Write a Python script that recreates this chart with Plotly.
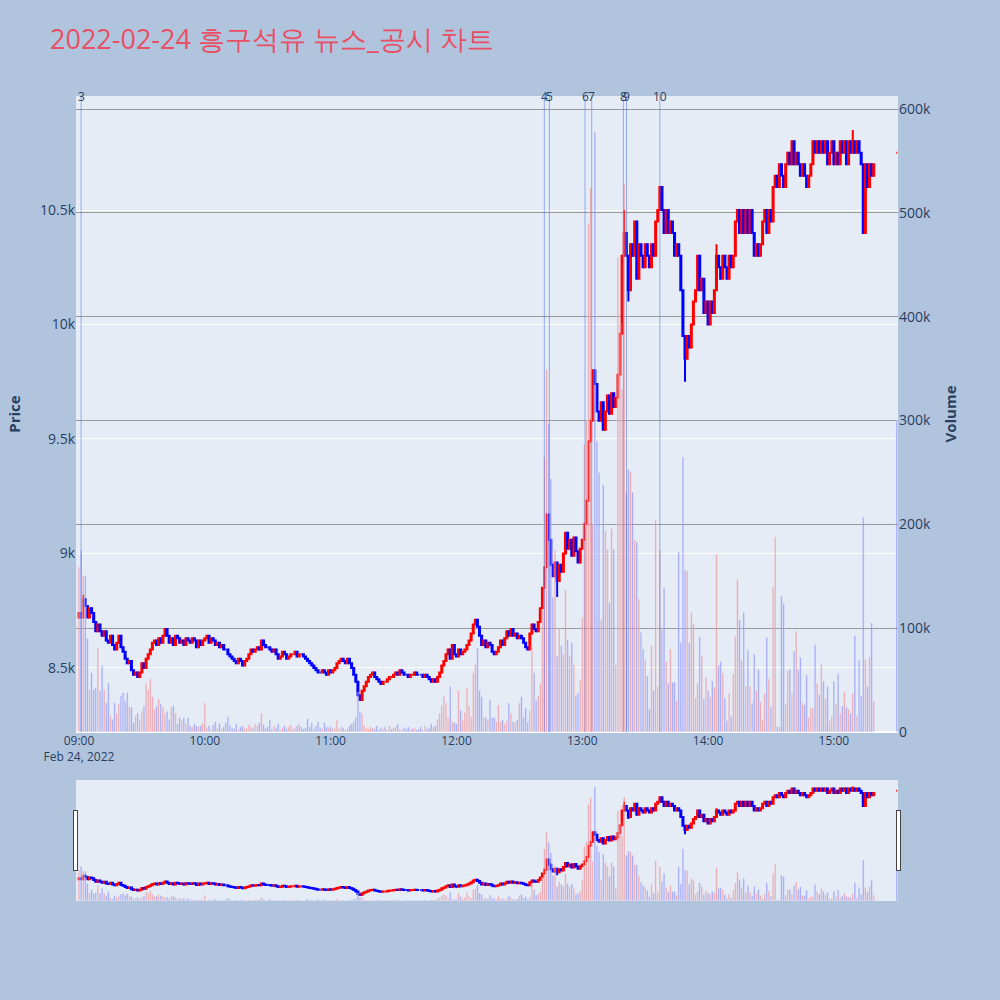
import pandas as pd
import plotly.graph_objects as go
from plotly.subplots import make_subplots

day = "2022-02-24"
title_text = f"{day} 흥구석유 뉴스_공시 차트"

# 1-minute closes, 09:00 .. 15:19
first_open = 8720
close_px = [
    8740, 8720, 8800, 8770, 8720, 8760, 8740, 8700, 8660, 8690,
    8660, 8640, 8660, 8620, 8610, 8640, 8600, 8580, 8610, 8640,
    8590, 8570, 8540, 8520, 8530, 8490, 8470, 8480, 8460, 8480,
    8520, 8500, 8540, 8560, 8580, 8610, 8620, 8600, 8630, 8610,
    8640, 8670, 8640, 8610, 8630, 8600, 8640, 8630, 8610, 8620,
    8600, 8630, 8620, 8610, 8630, 8620, 8590, 8620, 8600, 8620,
    8630, 8640, 8610, 8630, 8620, 8600, 8610, 8590, 8600, 8580,
    8580, 8560, 8550, 8540, 8530, 8520, 8540, 8530, 8510, 8530,
    8540, 8560, 8580, 8570, 8580, 8590, 8580, 8620, 8600, 8590,
    8590, 8580, 8570, 8580, 8560, 8540, 8550, 8570, 8560, 8540,
    8550, 8560, 8560, 8570, 8550, 8560, 8560, 8550, 8540, 8530,
    8520, 8510, 8500, 8490, 8480, 8480, 8490, 8480, 8470, 8490,
    8480, 8490, 8500, 8520, 8530, 8540, 8530, 8520, 8540, 8520,
    8500, 8470, 8440, 8380, 8360, 8400, 8420, 8440, 8460, 8470,
    8480, 8460, 8450, 8440, 8430, 8440, 8440, 8450, 8460, 8460,
    8470, 8480, 8470, 8490, 8480, 8470, 8470, 8460, 8470, 8470,
    8480, 8470, 8470, 8470, 8460, 8470, 8460, 8450, 8440, 8450,
    8440, 8460, 8480, 8510, 8530, 8560, 8580, 8540, 8600, 8560,
    8550, 8580, 8560, 8570, 8580, 8600, 8620, 8650, 8690, 8710,
    8680, 8640, 8600, 8620, 8590, 8610, 8600, 8570, 8560, 8570,
    8590, 8620, 8600, 8630, 8660, 8640, 8670, 8640, 8650, 8630,
    8640, 8630, 8610, 8590, 8580, 8650, 8690, 8670, 8660, 8700,
    8760, 8850, 8940, 9170, 9060, 8950, 8900, 8960, 8880, 8950,
    8920, 9000, 9090, 9020, 9060, 8990, 9070, 9010, 8960, 9020,
    9060, 9130, 9230, 9490, 9580, 9800, 9740, 9620, 9580, 9660,
    9540, 9620, 9690, 9610, 9700, 9640, 9680, 9780, 9960, 10300,
    10400, 10300, 10150, 10350, 10300, 10450, 10200, 10350, 10300, 10250,
    10350, 10300, 10250, 10350, 10300, 10450, 10500, 10600, 10500, 10400,
    10500, 10400, 10450, 10400, 10300, 10350, 10300, 10150, 9950, 9850,
    9950, 9900, 10000, 10100, 10150, 10300, 10150, 10200, 10050, 10100,
    10000, 10100, 10050, 10150, 10300, 10250, 10200, 10300, 10250, 10200,
    10300, 10250, 10300, 10450, 10500, 10400, 10500, 10400, 10500, 10400,
    10500, 10400, 10300, 10350, 10300, 10350, 10450, 10500, 10400, 10500,
    10450, 10600, 10650, 10600, 10700, 10650, 10600, 10700, 10750, 10700,
    10800, 10700, 10750, 10700, 10650, 10700, 10650, 10600, 10650, 10700,
    10800, 10750, 10800, 10750, 10800, 10750, 10800, 10700, 10750, 10800,
    10700, 10750, 10700, 10800, 10750, 10800, 10700, 10800, 10750, 10800,
    10750, 10800, 10750, 10700, 10400, 10700, 10600, 10700, 10650, 10700,
]

# volume per minute, thousands of shares
vol_k = [
    159, 175, 151, 150, 90, 41, 57, 41, 43, 81,
    40, 64, 41, 28, 47, 15, 12, 28, 18, 27,
    35, 38, 30, 38, 24, 24, 9, 15, 18, 12,
    20, 25, 47, 41, 51, 34, 22, 25, 32, 27,
    24, 18, 20, 12, 24, 25, 18, 8, 14, 12,
    14, 8, 14, 6, 5, 8, 6, 5, 6, 8,
    28, 4, 6, 3, 7, 10, 4, 8, 3, 5,
    9, 15, 6, 4, 3, 8, 2, 5, 6, 3,
    4, 7, 5, 4, 8, 6, 9, 18, 7, 4,
    5, 12, 3, 6, 4, 8, 2, 4, 6, 3,
    5, 7, 3, 4, 6, 8, 5, 3, 4, 13,
    5, 9, 3, 6, 10, 4, 3, 9, 5, 4,
    5, 3, 4, 12, 3, 5, 4, 2, 3, 6,
    8, 10, 14, 38, 20, 18, 6, 4, 3, 5,
    4, 3, 6, 2, 4, 3, 5, 2, 6, 3,
    4, 5, 8, 3, 2, 4, 3, 5, 2, 3,
    4, 2, 3, 5, 2, 6, 3, 4, 8, 5,
    6, 12, 18, 26, 35, 28, 14, 44, 10, 9,
    8, 40, 21, 12, 19, 43, 25, 15, 57, 65,
    81, 40, 34, 14, 14, 12, 31, 14, 14, 10,
    26, 10, 12, 8, 11, 28, 18, 10, 9, 12,
    28, 34, 14, 23, 10, 21, 83, 57, 30, 35,
    47, 118, 265, 349, 297, 244, 130, 175, 73, 99,
    83, 75, 137, 89, 73, 86, 65, 35, 38, 50,
    110, 277, 300, 490, 524, 200, 578, 280, 250, 108,
    238, 194, 176, 125, 196, 176, 65, 457, 393, 330,
    528, 231, 253, 251, 231, 185, 183, 128, 96, 80,
    70, 54, 22, 83, 40, 204, 44, 175, 99, 139,
    68, 47, 80, 48, 48, 30, 173, 86, 265, 156,
    155, 86, 115, 104, 33, 47, 92, 73, 32, 53,
    40, 34, 49, 43, 171, 64, 68, 57, 33, 11,
    37, 15, 56, 92, 147, 108, 69, 115, 44, 79,
    44, 28, 75, 40, 60, 29, 12, 37, 91, 51,
    24, 140, 188, 5, 5, 131, 124, 27, 59, 60,
    37, 78, 97, 60, 72, 28, 26, 55, 14, 23,
    23, 84, 47, 36, 65, 49, 32, 44, 11, 15,
    49, 27, 56, 18, 25, 39, 24, 22, 18, 37,
    93, 16, 69, 35, 207, 70, 44, 72, 105, 30,
]

# closing auction
auction_time = "15:30"
auction_px = 10750
auction_vol_k = 300

high_fix = {"09:02": 8820, "13:20": 10500, "14:04": 10350, "15:09": 10850}
low_fix = {"12:48": 8810, "13:22": 10100, "13:49": 9750}

# news / disclosure markers
news_times = ["09:01:00", "12:41:54", "12:44:18", "13:01:18",
              "13:04:30", "13:19:36", "13:21:06", "13:37:00"]
news_labels = ["3", "4", "5", "6", "7", "8", "9", "10"]

times = list(pd.date_range(f"{day} 09:00", periods=len(close_px), freq="min"))
times.append(pd.Timestamp(f"{day} {auction_time}"))
closes = close_px + [auction_px]
opens = [first_open] + close_px[:-1] + [auction_px]
keys = [t.strftime("%H:%M") for t in times]
highs = [high_fix.get(k, max(o, c)) for k, o, c in zip(keys, opens, closes)]
lows = [low_fix.get(k, min(o, c)) for k, o, c in zip(keys, opens, closes)]
vols = [v * 1000 for v in vol_k + [auction_vol_k]]
vol_colors = ["rgba(255,0,0,0.3)" if c > o else "rgba(0,0,255,0.3)"
              for o, c in zip(opens, closes)]

fig = make_subplots(specs=[[{"secondary_y": True}]])
fig.add_trace(go.Candlestick(
    x=times, open=opens, high=highs, low=lows, close=closes,
    increasing=dict(line=dict(color="red"), fillcolor="red"),
    decreasing=dict(line=dict(color="blue"), fillcolor="blue"),
    name="Price"), secondary_y=False)
fig.add_trace(go.Bar(x=times, y=vols, marker_color=vol_colors, name="Volume"),
              secondary_y=True)

for t, lab in zip(news_times, news_labels):
    ts = f"{day} {t}"
    fig.add_shape(type="line", xref="x", yref="paper", x0=ts, x1=ts, y0=0, y1=1,
                  line=dict(color="royalblue", width=1), opacity=0.5)
    fig.add_annotation(x=ts, y=1, xref="x", yref="paper", text=lab, showarrow=False,
                       yanchor="middle", font=dict(size=12, color="#2a3f5f"))

x_range = [f"{day} 08:58:34", f"{day} 15:30:34"]
fig.update_layout(
    width=1000, height=1000,
    title=dict(text=title_text, x=0.05, y=0.96, yanchor="middle",
               font=dict(size=27, color="#E94F64")),
    paper_bgcolor="lightsteelblue",
    showlegend=False,
    margin=dict(l=76, r=102, t=96, b=100),
    xaxis=dict(type="date", domain=[0, 1], range=x_range, showgrid=False,
               rangeslider=dict(visible=True, bgcolor="#E5ECF6", range=x_range)),
)
fig.update_yaxes(title_text="<b>Price</b>", title_font_size=15, tickfont_size=14,
                 range=[8220, 10998], secondary_y=False)
fig.update_yaxes(title_text="<b>Volume</b>", title_font_size=15, tickfont_size=14,
                 range=[0, 612600], showgrid=True, gridcolor="#999", secondary_y=True)

fig.write_html("out.html", config={"displayModeBar": False},
               post_script="document.body.style.margin='0';")
